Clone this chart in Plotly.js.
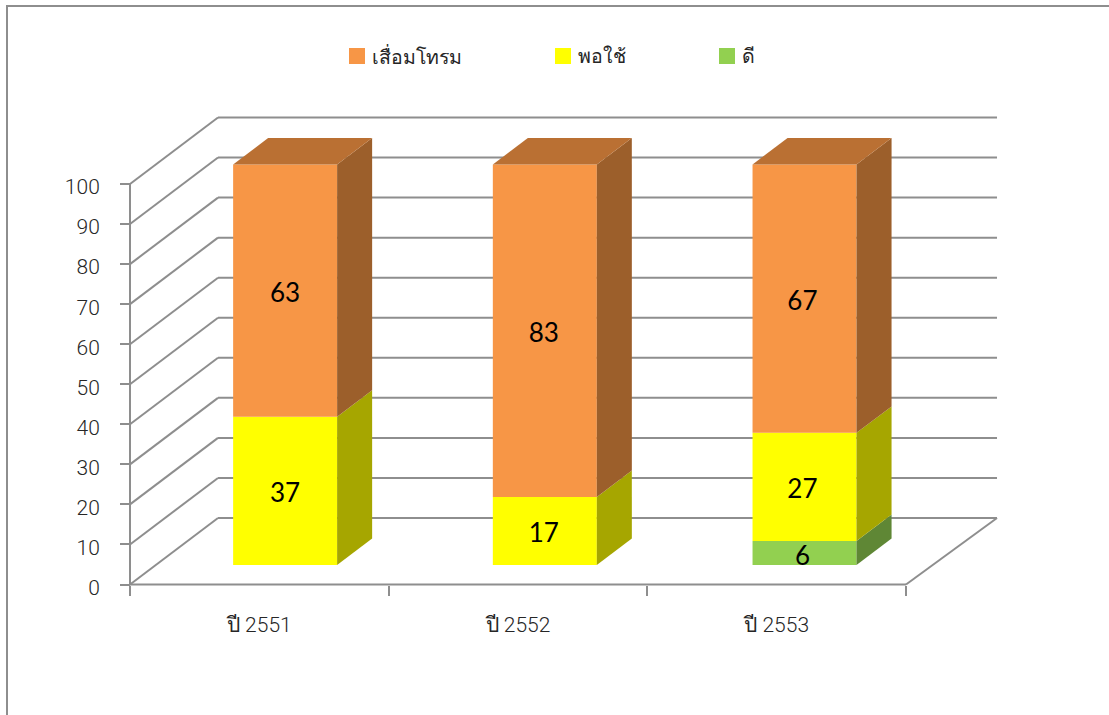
<!DOCTYPE html>
<html>
<head>
<meta charset="utf-8">
<script src="https://cdn.plot.ly/plotly-3.0.1.min.js"></script>
<style>html,body{margin:0;padding:0;background:#fff;overflow:hidden}</style>
</head>
<body>
<div id="chart" style="width:1109px;height:715px"></div>
<script>
// Condition of equipment per year, stacked to 100, drawn as extruded columns.
const years = ['ปี 2551', 'ปี 2552', 'ปี 2553'];
const seriesNames = ['ดี', 'พอใช้', 'เสื่อมโทรม'];
const good = [0, 0, 6];
const fair = [37, 17, 27];
const worn = [63, 83, 67];
const valueTicks = [0, 10, 20, 30, 40, 50, 60, 70, 80, 90, 100];
const categoryEdges = [0, 1, 2, 3];

const frontColors = ['#92D050', '#FFFF00', '#F79646'];
const sideColors = ['#5F8735', '#A6A600', '#9C5F2B'];
const topColor = '#BA7033';
const lineColor = '#8E8E8E';
const labelColor = '#262626';
const axisFont = 'Roboto, "Noto Sans", sans-serif';

// Scale of the floor plane and the oblique depth vector of the box.
const W = 1109, H = 715;
const plot = {l: 120, r: 1005, t: 110, b: 595};
const origin = {x: 130, y: 584.5};
const pxPerCat = 258.67, pxPerVal = 4.005;
const depthX = 88 / pxPerCat, depthY = 66.5 / pxPerVal;
const barWidth = 0.402, depthFront = 0.293, depthBack = 0.691;
const barPitch = 1.004, backWallStretch = 0.0116;
const labelDrop = 5 / pxPerVal;

// Oblique projection of a (category, value, depth) point to axis units.
const proj = (c, v, d) => [c + d * depthX, v + d * depthY];
const toPaperX = px => (px - plot.l) / (plot.r - plot.l);
const toPaperY = px => (plot.b - px) / (plot.b - plot.t);

function lineShape(a, b) {
  return {type: 'line', layer: 'below', xref: 'x', yref: 'y',
    x0: a[0], y0: a[1], x1: b[0], y1: b[1],
    line: {color: lineColor, width: 2}};
}

// Walls and floor outline.
const shapes = [];
const lastCat = categoryEdges[categoryEdges.length - 1];
const backEnd = lastCat + backWallStretch;
valueTicks.forEach(v => {
  shapes.push(lineShape(proj(0, v, 0), proj(0, v, 1)));
  shapes.push(lineShape(proj(0, v, 1), proj(backEnd, v, 1)));
});
shapes.push(lineShape(proj(0, 0, 0), proj(lastCat, 0, 0)));
shapes.push(lineShape(proj(lastCat, 0, 0), proj(backEnd, 0, 1)));
shapes.push(lineShape(proj(0, 0, 0), proj(0, 100, 0)));

// Outer chart frame, open towards the right and bottom edges of the page.
shapes.push({type: 'path', xref: 'paper', yref: 'paper', layer: 'below',
  path: `M${toPaperX(7)},${toPaperY(H + 2)} L${toPaperX(7)},${toPaperY(6)} L${toPaperX(W + 2)},${toPaperY(6)}`,
  line: {color: lineColor, width: 2}});

const stacks = [good, fair, worn];
const traces = [];
const labelCenters = years.map((_, i) => i + 0.5);
const centers = years.map((_, i) => 0.5 + i * barPitch);
const bases = years.map(() => 0);
const valueLabels = {x: [], y: [], text: []};

stacks.forEach((vals, s) => {
  const fromV = bases.slice();
  const idx = vals.map((v, i) => i).filter(i => vals[i] > 0);
  // Front faces
  traces.push({
    type: 'bar',
    name: seriesNames[s],
    x: idx.map(i => proj(centers[i], 0, depthFront)[0]),
    y: idx.map(i => vals[i]),
    base: idx.map(i => proj(0, fromV[i], depthFront)[1]),
    width: barWidth,
    marker: {color: frontColors[s], line: {width: 0}},
    hoverinfo: 'skip',
    showlegend: false
  });
  // Right-hand faces
  idx.forEach(i => {
    const cR = centers[i] + barWidth / 2;
    const pts = [proj(cR, fromV[i], depthFront), proj(cR, fromV[i], depthBack),
                 proj(cR, fromV[i] + vals[i], depthBack), proj(cR, fromV[i] + vals[i], depthFront)];
    traces.push({type: 'scatter', mode: 'lines', fill: 'toself',
      x: pts.map(p => p[0]).concat(pts[0][0]), y: pts.map(p => p[1]).concat(pts[0][1]),
      line: {width: 0, color: sideColors[s]}, fillcolor: sideColors[s],
      hoverinfo: 'skip', showlegend: false});
    const mid = proj(labelCenters[i], fromV[i] + vals[i] / 2, depthFront);
    valueLabels.x.push(mid[0]);
    valueLabels.y.push(mid[1] - labelDrop);
    valueLabels.text.push(String(vals[i]));
  });
  idx.forEach(i => { bases[i] += vals[i]; });
});

// Top faces of the finished stacks
centers.forEach((c, i) => {
  const cL = c - barWidth / 2, cR = c + barWidth / 2, v = bases[i];
  const pts = [proj(cL, v, depthFront), proj(cR, v, depthFront), proj(cR, v, depthBack), proj(cL, v, depthBack)];
  traces.push({type: 'scatter', mode: 'lines', fill: 'toself',
    x: pts.map(p => p[0]).concat(pts[0][0]), y: pts.map(p => p[1]).concat(pts[0][1]),
    line: {width: 0, color: topColor}, fillcolor: topColor,
    hoverinfo: 'skip', showlegend: false});
});

// Segment values
traces.push({type: 'scatter', mode: 'text', x: valueLabels.x, y: valueLabels.y, text: valueLabels.text,
  textposition: 'middle center', cliponaxis: false,
  textfont: {family: 'Lato, sans-serif', size: 26, color: '#000'},
  hoverinfo: 'skip', showlegend: false});

// Legend row: worn, fair, good, left to right
const legendKeys = [{s: 2, x: 349}, {s: 1, x: 555}, {s: 0, x: 719}];
const annotations = [];
legendKeys.forEach(k => {
  shapes.push({type: 'rect', xref: 'paper', yref: 'paper',
    x0: toPaperX(k.x), x1: toPaperX(k.x + 16), y0: toPaperY(64), y1: toPaperY(48),
    fillcolor: frontColors[k.s], line: {width: 0}});
  annotations.push({xref: 'paper', yref: 'paper', x: toPaperX(k.x + 21), y: toPaperY(57),
    xanchor: 'left', yanchor: 'middle', showarrow: false, text: seriesNames[k.s],
    font: {family: axisFont, size: 19.5, color: labelColor}});
});

const layout = {
  width: W, height: H,
  autosize: false,
  margin: {l: plot.l, r: W - plot.r, t: plot.t, b: H - plot.b, pad: 0},
  paper_bgcolor: '#fff', plot_bgcolor: 'rgba(0,0,0,0)',
  showlegend: false,
  barmode: 'overlay',
  hovermode: false,
  shapes, annotations,
  xaxis: {
    range: [(plot.l - origin.x) / pxPerCat, (plot.r - origin.x) / pxPerCat],
    anchor: 'free',
    position: (plot.b - origin.y) / (plot.b - plot.t),
    tickmode: 'array', tickvals: labelCenters, ticktext: years,
    ticks: '', showline: false, showgrid: false, zeroline: false,
    minor: {tickmode: 'array', tickvals: categoryEdges, ticks: 'outside', ticklen: 10, tickwidth: 2, tickcolor: lineColor, showgrid: false},
    ticklabelstandoff: 25,
    tickfont: {family: axisFont, size: 21, weight: 300, color: labelColor}
  },
  yaxis: {
    range: [(origin.y - plot.b) / pxPerVal, (origin.y - plot.t) / pxPerVal],
    anchor: 'free',
    position: (origin.x - plot.l) / (plot.r - plot.l),
    tickmode: 'array', tickvals: valueTicks, ticktext: valueTicks.map(String),
    ticks: 'outside', ticklen: 10, tickwidth: 2, tickcolor: lineColor,
    showline: false, showgrid: false, zeroline: false,
    ticklabelstandoff: 16,
    ticklabelshift: 3,
    tickfont: {family: axisFont, size: 21, weight: 300, color: labelColor}
  }
};

Plotly.newPlot('chart', traces, layout, {displayModeBar: false, staticPlot: true});
</script>
</body>
</html>
